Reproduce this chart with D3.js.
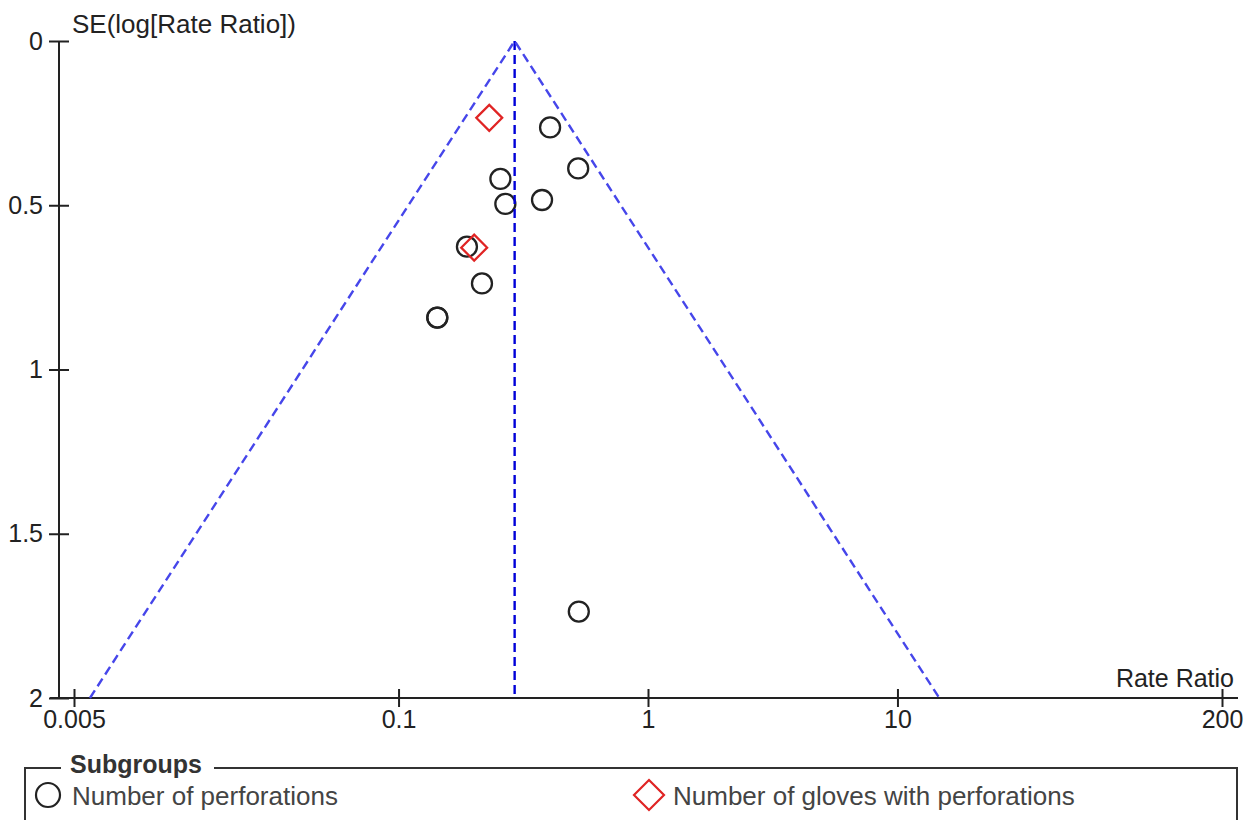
<!DOCTYPE html>
<html>
<head>
<meta charset="utf-8">
<script src="https://cdn.jsdelivr.net/npm/d3@7/dist/d3.min.js"></script>
<style>
  html, body { margin: 0; padding: 0; background: #fff; }
  svg { display: block; font-family: "Liberation Sans", Arial, sans-serif; }
</style>
</head>
<body>
<svg id="chart" width="1250" height="820"></svg>
<script>
// Funnel plot: rate ratio (log scale) against its standard error

// Subgroup "Number of perforations"
const perforationsRR = [0.405, 0.525, 0.256, 0.268, 0.376, 0.188, 0.216, 0.143, 0.143, 0.528];
const perforationsSE = [0.263, 0.388, 0.420, 0.496, 0.484, 0.626, 0.738, 0.842, 0.842, 1.737];

// Subgroup "Number of gloves with perforations"
const glovesRR = [0.231, 0.201];
const glovesSE = [0.234, 0.629];

// Pooled estimate and funnel depth
const pooledRR = 0.292;
const seMax = 2;

// Axis ticks
const xTickValues = [0.005, 0.1, 1, 10, 200];
const xTickLabels = ["0.005", "0.1", "1", "10", "200"];
const yTickValues = [0, 0.5, 1, 1.5, 2];
const yTickLabels = ["0", "0.5", "1", "1.5", "2"];

const legendLabels = ["Number of perforations", "Number of gloves with perforations"];

const svg = d3.select("#chart");
const tickFont = 25;
const labelFont = 26;
const textColor = "#222";

// Scales
const x = d3.scaleLog().domain([0.005, 200]).range([74, 1222]);
const y = d3.scaleLinear().domain([0, seMax]).range([41, 698]);

const axisLeftX = 59;
const axisRightX = 1238;

// X axis
const xAxis = svg.append("g")
  .attr("transform", `translate(0,${y(seMax)})`)
  .call(d3.axisBottom(x)
    .tickValues(xTickValues)
    .tickFormat((d, i) => xTickLabels[i])
    .tickSizeOuter(0)
    .tickSize(9)
    .tickPadding(3));
xAxis.select(".domain").remove();
xAxis.selectAll(".tick line").attr("y1", -9).attr("y2", 9).attr("stroke", textColor).attr("stroke-width", 2);
xAxis.selectAll(".tick text").attr("font-size", tickFont).attr("fill", textColor)
  .attr("font-family", "Liberation Sans, Arial, sans-serif");
xAxis.append("line")
  .attr("x1", axisLeftX - 9).attr("x2", axisRightX)
  .attr("y1", 0).attr("y2", 0)
  .attr("stroke", textColor).attr("stroke-width", 2);

// Y axis
const yAxis = svg.append("g")
  .attr("transform", `translate(${axisLeftX},0)`)
  .call(d3.axisLeft(y)
    .tickValues(yTickValues)
    .tickFormat((d, i) => yTickLabels[i])
    .tickSizeOuter(0)
    .tickSize(10)
    .tickPadding(6));
yAxis.select(".domain").remove();
yAxis.selectAll(".tick line").attr("x1", -10).attr("x2", 10).attr("stroke", textColor).attr("stroke-width", 2);
yAxis.selectAll(".tick text").attr("font-size", tickFont).attr("fill", textColor)
  .attr("font-family", "Liberation Sans, Arial, sans-serif");
yAxis.append("line")
  .attr("x1", 0).attr("x2", 0)
  .attr("y1", y(0)).attr("y2", y(seMax))
  .attr("stroke", textColor).attr("stroke-width", 2);

// Axis titles
svg.append("text")
  .attr("x", 72).attr("y", 33)
  .attr("font-size", labelFont).attr("fill", textColor)
  .text("SE(log[Rate Ratio])");
svg.append("text")
  .attr("x", 1234).attr("y", 687)
  .attr("text-anchor", "end")
  .attr("font-size", tickFont).attr("fill", textColor)
  .text("Rate Ratio");

// Study markers
const plot = svg.append("g");
plot.selectAll("circle.perf")
  .data(perforationsRR.map((rr, i) => ({ rr, se: perforationsSE[i] })))
  .join("circle")
  .attr("class", "perf")
  .attr("cx", d => x(d.rr))
  .attr("cy", d => y(d.se))
  .attr("r", 10)
  .attr("fill", "none")
  .attr("stroke", "#222")
  .attr("stroke-width", 2.3);

const diamond = (cx, cy, h) => `M${cx},${cy - h}L${cx + h},${cy}L${cx},${cy + h}L${cx - h},${cy}Z`;
plot.selectAll("path.glove")
  .data(glovesRR.map((rr, i) => ({ rr, se: glovesSE[i] })))
  .join("path")
  .attr("class", "glove")
  .attr("d", d => diamond(x(d.rr), y(d.se), 13))
  .attr("fill", "none")
  .attr("stroke", "#e02424")
  .attr("stroke-width", 2.2);

// Funnel: pooled estimate and 95% limits
const z = 1.96;
const funnel = svg.append("g").attr("fill", "none");
funnel.append("line")
  .attr("x1", x(pooledRR)).attr("x2", x(pooledRR))
  .attr("y1", y(0)).attr("y2", y(seMax))
  .attr("stroke", "#0000d8").attr("stroke-width", 2.4)
  .attr("stroke-dasharray", "9,5");
funnel.append("path")
  .attr("d", d3.line()([
    [x(pooledRR * Math.exp(-z * seMax)), y(seMax)],
    [x(pooledRR), y(0)],
    [x(pooledRR * Math.exp(z * seMax)), y(seMax)]
  ]))
  .attr("stroke", "#4646ea").attr("stroke-width", 2.4)
  .attr("stroke-dasharray", "9,5");

// Legend
const legend = svg.append("g");
legend.append("path")
  .attr("d", "M61,768H25V830")
  .attr("fill", "none").attr("stroke", "#333").attr("stroke-width", 2);
legend.append("path")
  .attr("d", "M214,768H1237V830")
  .attr("fill", "none").attr("stroke", "#333").attr("stroke-width", 2);
legend.append("text")
  .attr("x", 70).attr("y", 773)
  .attr("font-size", tickFont).attr("font-weight", "bold").attr("fill", "#333")
  .text("Subgroups");

legend.append("circle")
  .attr("cx", 48).attr("cy", 795).attr("r", 12)
  .attr("fill", "none").attr("stroke", "#222").attr("stroke-width", 2.2);
legend.append("text")
  .attr("x", 72).attr("y", 805)
  .attr("font-size", labelFont).attr("fill", "#444")
  .text(legendLabels[0]);

legend.append("path")
  .attr("d", diamond(649, 795, 15))
  .attr("fill", "none").attr("stroke", "#e02424").attr("stroke-width", 2.2);
legend.append("text")
  .attr("x", 673).attr("y", 805)
  .attr("font-size", labelFont).attr("fill", "#444")
  .text(legendLabels[1]);
</script>
</body>
</html>
